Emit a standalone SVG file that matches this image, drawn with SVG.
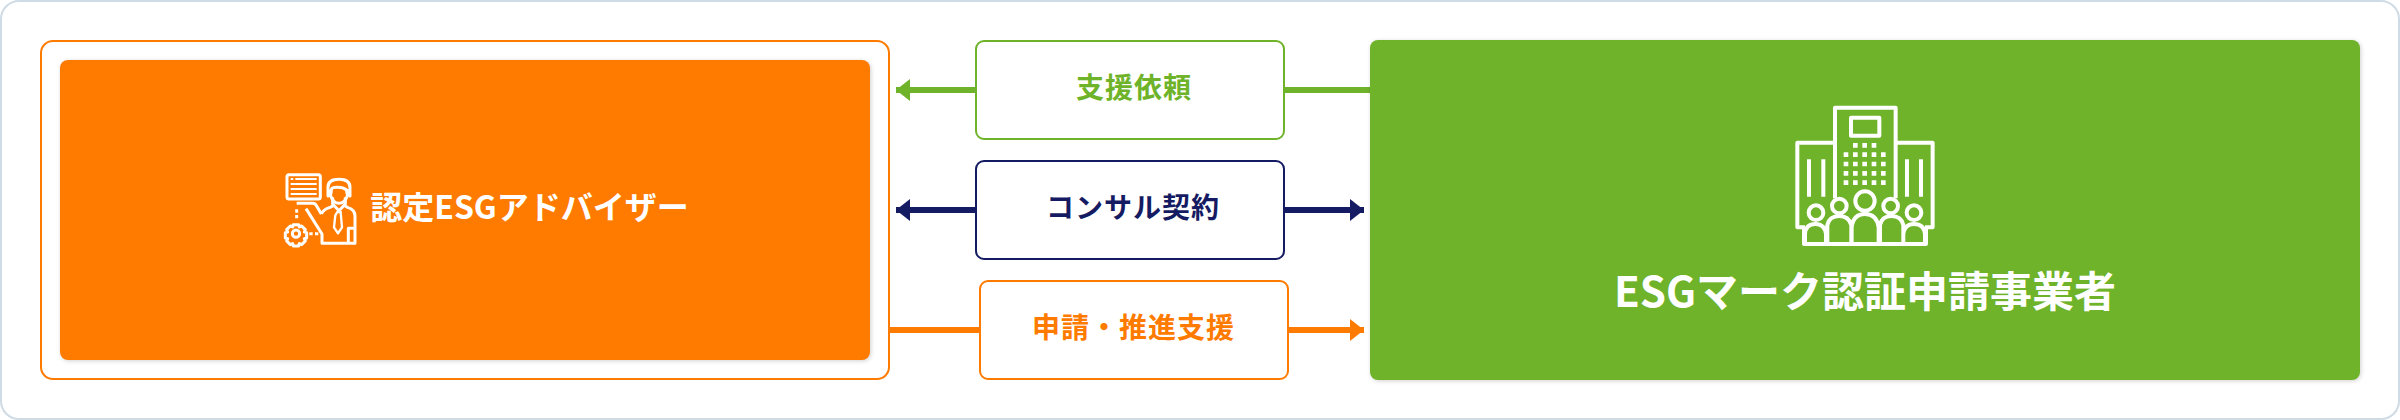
<svg xmlns="http://www.w3.org/2000/svg" width="2400" height="420" viewBox="0 0 2400 420">
<style>
text{font-family:"Noto Sans CJK JP","Noto Sans",sans-serif;font-weight:700;text-anchor:middle}
.lb{font-size:28px;letter-spacing:1px}
.ic{fill:none;stroke:#fff;stroke-linejoin:round}
.w{fill:#fff}
</style>
<defs>
<filter id="sh" x="-5%" y="-5%" width="110%" height="110%" color-interpolation-filters="sRGB"><feDropShadow dx="1" dy="1" stdDeviation="2" flood-color="#000" flood-opacity=".18"/></filter>
<marker id="ag" markerUnits="userSpaceOnUse" markerWidth="14" markerHeight="22" refX="14" refY="11" orient="auto"><path d="M0 0L14 11L0 22z" fill="#6eb329"/></marker>
<marker id="an" markerUnits="userSpaceOnUse" markerWidth="14" markerHeight="22" refX="14" refY="11" orient="auto"><path d="M0 0L14 11L0 22z" fill="#151b62"/></marker>
<marker id="ao" markerUnits="userSpaceOnUse" markerWidth="14" markerHeight="22" refX="14" refY="11" orient="auto"><path d="M0 0L14 11L0 22z" fill="#ff7b00"/></marker>
</defs>
<rect x="1" y="1" width="2398" height="418" rx="18" fill="#fff" stroke="#cfdbe5" stroke-width="2"/>
<g id="connectors" fill="none" stroke-width="6">
<path d="M975 90H896" stroke="#6eb329" marker-end="url(#ag)"/>
<path d="M1285 90H1370" stroke="#6eb329"/>
<path d="M975 210H896" stroke="#151b62" marker-end="url(#an)"/>
<path d="M1285 210H1364" stroke="#151b62" marker-end="url(#an)"/>
<path d="M890 330H979" stroke="#ff7b00"/>
<path d="M1288 330H1364" stroke="#ff7b00" marker-end="url(#ao)"/>
</g>
<g id="advisor">
<rect x="41" y="41" width="848" height="338" rx="12" fill="none" stroke="#ff7b00" stroke-width="2"/>
<rect x="60" y="60" width="810" height="300" rx="8" fill="#ff7b00" filter="url(#sh)"/>
<g class="ic" transform="translate(250 140) scale(.3333)" stroke-width="9">
<rect x="111" y="104" width="100" height="73" rx="6"/>
<path d="M122 117h8M136 117h64M122 132h78M122 147h78M122 162h78" stroke-width="6"/>
<path d="M140 208V240" stroke-dasharray="10 7"/>
<path d="M178 281H206" stroke-dasharray="10 7"/>
<circle cx="138" cy="281" r="11"/>
<path d="M130 254h16l2 7 7-3 11 11-3 7 7 2v16l-7 2 3 7-11 11-7-3-2 7h-16l-2-7-7 3-11-11 3-7-7-2v-16l7-2-3-7 11-11 7 3z"/>
<path d="M140 190H188Q196 190 200 198L214 222"/>
<path d="M168 206L216 282V310H315V228Q315 208 292 202L282 196"/>
<path d="M214 222Q220 208 240 202L252 196"/>
<path d="M248 172V192L267 212L286 192V172"/>
<path d="M242 148V168Q250 190 267 190Q284 190 292 168V148"/>
<path d="M234 168V142Q234 118 267 118Q300 118 300 142V168Q290 164 290 150Q280 142 262 142Q244 142 244 150Q244 164 234 168Z"/>
<path d="M262 216L272 216L276 262L264 280L252 262L256 226Z" stroke-width="7"/>
<path d="M295 310V265H315"/>
</g>
<text x="529.5" y="219" font-size="32" fill="#fff">認定ESGアドバイザー</text>
</g>
<g id="request"><rect x="976" y="41" width="308" height="98" rx="8" fill="#fff" stroke="#6eb329" stroke-width="2"/>
<text class="lb" x="1134" y="98" fill="#6eb329">支援依頼</text></g>
<g id="contract"><rect x="976" y="161" width="308" height="98" rx="8" fill="#fff" stroke="#151b62" stroke-width="2"/>
<text class="lb" x="1133" y="218" fill="#151b62">コンサル契約</text></g>
<g id="application"><rect x="980" y="281" width="308" height="98" rx="8" fill="#fff" stroke="#ff7b00" stroke-width="2"/>
<text class="lb" x="1133.5" y="338" fill="#ff7b00">申請・推進支援</text></g>
<g id="business">
<rect x="1370" y="40" width="990" height="340" rx="8" fill="#6eb329" filter="url(#sh)"/>
<g class="ic" transform="translate(1740 90) scale(.3333)" stroke-width="12">
<path d="M285 158H172V412H195M555 412H578V158H467M285 325V53H467V325"/>
<rect x="333" y="83" width="85" height="54"/>
<path d="M207 208V320M250 208V320M501 208V320M543 208V320"/>
<path d="M192 412V462H558V412"/>
<circle cx="228" cy="368" r="22"/><circle cx="298" cy="348" r="22"/><circle cx="375" cy="333" r="29"/><circle cx="452" cy="348" r="22"/><circle cx="522" cy="368" r="22"/>
<path d="M195 460V432Q197 402 226 402Q254 402 258 432V460M262 460V405Q268 378 298 378Q326 378 334 405V460M335 460V412Q340 372 375 372Q410 372 416 412V460M420 460V405Q426 378 454 378Q484 378 490 405V460M490 432Q494 402 522 402Q552 402 555 432V460"/>
<g class="w" stroke="none">
<path d="M339 159h14v14h-14zM367 159h14v14h-14zM395 159h14v14h-14zM311 187h14v14h-14zM339 187h14v14h-14zM367 187h14v14h-14zM395 187h14v14h-14zM423 187h14v14h-14zM311 215h14v14h-14zM339 215h14v14h-14zM367 215h14v14h-14zM395 215h14v14h-14zM423 215h14v14h-14zM311 243h14v14h-14zM339 243h14v14h-14zM367 243h14v14h-14zM395 243h14v14h-14zM423 243h14v14h-14zM311 271h14v14h-14zM339 271h14v14h-14zM367 271h14v14h-14zM395 271h14v14h-14zM423 271h14v14h-14z"/>
</g>
</g>
<text x="1865" y="307" font-size="42" fill="#fff">ESGマーク認証申請事業者</text>
</g>
</svg>
